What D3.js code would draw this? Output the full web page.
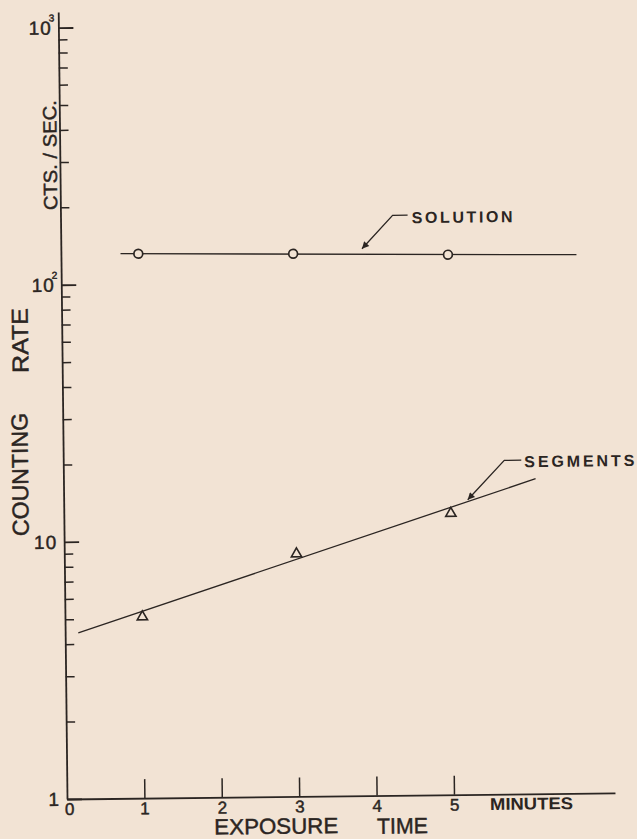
<!DOCTYPE html>
<html>
<head>
<meta charset="utf-8">
<script src="https://cdn.jsdelivr.net/npm/d3@7"></script>
<style>
  html, body { margin: 0; padding: 0; background: #f2e3d4; }
  svg { display: block; }
  text { font-family: "Liberation Sans", Arial, sans-serif; fill: #2b2522; stroke: #2b2522; stroke-width: 0.45px; }
</style>
</head>
<body>
<div id="chart"></div>
<script>
// values
var solutionX = [1, 3, 5];
var solutionY = [131, 129, 126];
var segmentsX = [1, 3, 5];
var segmentsY = [5.07, 8.78, 12.42];

// drawn fit lines (end points)
var solutionFitX = [0.77, 6.66];
var solutionFitY = [131.3, 124.3];
var segmentsFitX = [0.17, 6.1];
var segmentsFitY = [4.42, 16.8];

var xTicks = [0, 1, 2, 3, 4, 5];
var yMajor = [1, 10, 100, 1000];
var yMajorLabels = ["1", "10", "10", "10"];
var yMajorSup = ["", "", "2", "3"];

var annotations = [
  {label: "SOLUTION", x: 3.89, y: 134, dx: 31, dy: -33, len: 15, tx: 50, ty: -25, w: 101},
  {label: "SEGMENTS", x: 5.22, y: 14.0, dx: 37, dy: -39, len: 17, tx: 57, ty: -32, w: 110}
];

var ink = "#2b2522", paper = "#f2e3d4";
var W = 637, H = 839;
var origin = {x: 67, y: 799}, tilt = -0.64;

var svg = d3.select("#chart").append("svg")
    .attr("width", W)
    .attr("height", H);

svg.append("rect").attr("width", W).attr("height", H).attr("fill", paper);

var defs = svg.append("defs");
defs.append("marker")
    .attr("id", "arrow")
    .attr("viewBox", "0 0 10 10")
    .attr("refX", 10).attr("refY", 5)
    .attr("markerWidth", 10).attr("markerHeight", 7)
    .attr("markerUnits", "userSpaceOnUse")
    .attr("orient", "auto")
  .append("path")
    .attr("d", "M0,0L10,5L0,10Z")
    .attr("fill", ink);

var g = svg.append("g")
    .attr("transform", `translate(${origin.x},${origin.y}) rotate(${tilt})`);

var x = d3.scaleLinear().domain([0, 7.08]).range([0, 548]);
var y = d3.scaleLog().domain([1, 1150]).range([0, -787]);

// x axis, ticks pointing up
var xAxis = g.append("g")
    .call(d3.axisBottom(x).tickValues(xTicks).tickSizeInner(-19).tickSizeOuter(0).tickPadding(4).tickFormat(d3.format("d")));
xAxis.select(".domain").attr("stroke", ink).attr("stroke-width", 1.8);
xAxis.selectAll(".tick line").attr("stroke", ink).attr("stroke-width", 1.5);
xAxis.selectAll(".tick text")
    .attr("fill", ink)
    .style("font-family", "Liberation Sans, sans-serif")
    .style("font-size", "17px");
xAxis.selectAll(".tick").filter(d => d === 0).select("line").remove();
xAxis.selectAll(".tick").filter(d => d === 0).select("text").attr("dx", 2);

// y axis, ticks pointing right, labels on the left
var minor = y.ticks().filter(d => yMajor.indexOf(d) < 0 && d < 1000);
var yMinorAxis = g.append("g")
    .call(d3.axisLeft(y).tickValues(minor).tickSizeInner(-9).tickSizeOuter(0).tickFormat(""));
yMinorAxis.select(".domain").attr("stroke", ink).attr("stroke-width", 1.8);
yMinorAxis.selectAll(".tick line").attr("stroke", ink).attr("stroke-width", 1.5);

var yMajorAxis = g.append("g")
    .call(d3.axisLeft(y).tickValues(yMajor).tickSizeInner(-15).tickSizeOuter(0).tickFormat(""));
yMajorAxis.select(".domain").remove();
yMajorAxis.selectAll(".tick line").attr("stroke", ink).attr("stroke-width", 1.8);

var yLab = g.append("g").selectAll("text")
    .data(yMajor)
  .enter().append("text")
    .attr("x", (d, i) => yMajorSup[i] ? -4 : -7)
    .attr("y", d => y(d))
    .attr("dy", "0.36em")
    .attr("text-anchor", "end")
    .style("font-size", "19px")
    .style("letter-spacing", "1px");
yLab.append("tspan").text((d, i) => yMajorLabels[i]);
yLab.append("tspan")
    .attr("dx", -3)
    .attr("dy", -13)
    .style("font-size", "10px")
    .style("letter-spacing", "0px")
    .text((d, i) => yMajorSup[i]);

// fit lines
var line = d3.line().x(d => x(d[0])).y(d => y(d[1]));
g.append("path")
    .datum(d3.zip(solutionFitX, solutionFitY))
    .attr("d", line)
    .attr("fill", "none").attr("stroke", ink).attr("stroke-width", 1.3);
g.append("path")
    .datum(d3.zip(segmentsFitX, segmentsFitY))
    .attr("d", line)
    .attr("fill", "none").attr("stroke", ink).attr("stroke-width", 1.3);

// points
g.append("g").selectAll("circle")
    .data(d3.zip(solutionX, solutionY))
  .enter().append("circle")
    .attr("cx", d => x(d[0]))
    .attr("cy", d => y(d[1]))
    .attr("r", 4.4)
    .attr("fill", paper).attr("stroke", ink).attr("stroke-width", 1.7);

var tri = d3.symbol().type(d3.symbolTriangle).size(46);
g.append("g").selectAll("path")
    .data(d3.zip(segmentsX, segmentsY))
  .enter().append("path")
    .attr("transform", d => `translate(${x(d[0])},${y(d[1])})`)
    .attr("d", tri)
    .attr("fill", paper).attr("stroke", ink).attr("stroke-width", 1.6);

// leader labels
var ann = g.append("g").selectAll("g")
    .data(annotations)
  .enter().append("g")
    .attr("transform", d => `translate(${x(d.x)},${y(d.y)})`);
ann.append("path")
    .attr("d", d => `M${d.dx + d.len},${d.dy}H${d.dx}L0,0`)
    .attr("fill", "none").attr("stroke", ink).attr("stroke-width", 1.3)
    .attr("marker-end", "url(#arrow)");
ann.append("text")
    .attr("x", d => d.tx)
    .attr("y", d => d.ty)
    .attr("textLength", d => d.w)
    .attr("lengthAdjust", "spacing")
    .style("font-size", "16px")
    .style("font-weight", "bold")
    .style("stroke-width", "0px")
    .text(d => d.label);

// axis titles
g.append("text")
    .attr("x", x(6.0)).attr("y", 9.7).attr("dy", "0.35em")
    .attr("text-anchor", "middle")
    .attr("textLength", 83).attr("lengthAdjust", "spacingAndGlyphs")
    .style("font-size", "17px").style("font-weight", "bold")
    .style("stroke-width", "0px")
    .text("MINUTES");
g.append("text")
    .attr("x", x(2.7)).attr("y", 29.5).attr("dy", "0.35em")
    .attr("text-anchor", "middle")
    .attr("textLength", 124).attr("lengthAdjust", "spacingAndGlyphs")
    .style("font-size", "22px")
    .text("EXPOSURE");
g.append("text")
    .attr("x", x(4.33)).attr("y", 30.5).attr("dy", "0.35em")
    .attr("text-anchor", "middle")
    .attr("textLength", 51).attr("lengthAdjust", "spacingAndGlyphs")
    .style("font-size", "22px")
    .text("TIME");

var yTitles = [
  {text: "COUNTING", gx: -43.4, v: 325, w: 123, size: 23},
  {text: "RATE", gx: -41.9, v: 459, w: 65, size: 23},
  {text: "CTS. / SEC.", gx: -9.8, v: 644, w: 110, size: 19}
];
g.append("g").selectAll("text")
    .data(yTitles)
  .enter().append("text")
    .attr("transform", d => `translate(${d.gx},${-d.v}) rotate(-90)`)
    .attr("dy", "0.35em")
    .attr("text-anchor", "middle")
    .attr("textLength", d => d.w)
    .attr("lengthAdjust", "spacingAndGlyphs")
    .style("font-size", d => d.size + "px")
    .text(d => d.text);
</script>
</body>
</html>
